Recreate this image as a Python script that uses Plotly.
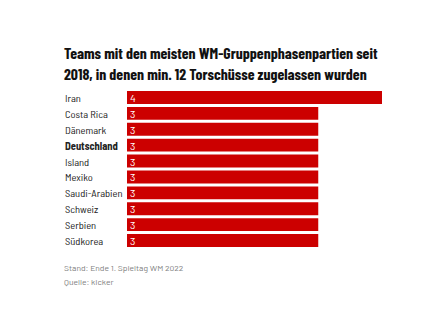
import plotly.graph_objects as go

teams = ["Iran", "Costa Rica", "Dänemark", "Deutschland", "Island", "Mexiko",
         "Saudi-Arabien", "Schweiz", "Serbien", "Südkorea"]
games = [4, 3, 3, 3, 3, 3, 3, 3, 3, 3]
highlight = "Deutschland"

title_lines = ["Teams mit den meisten WM-Gruppenphasenpartien seit",
               "2018, in denen min. 12 Torschüsse zugelassen wurden"]
footer_lines = ["Stand: Ende 1. Spieltag WM 2022", "Quelle: kicker"]

W, H = 444, 333
L, R, T, B = 127, 62, 89, 84
LABEL_FONT = "Barlow Semi Condensed, Barlow, Roboto, sans-serif"
FOOT_FONT = "Barlow, Roboto, sans-serif"
TITLE_FONT = "Barlow Condensed, Roboto, sans-serif"

fig = go.Figure(go.Bar(
    x=games, y=teams, orientation="h",
    marker=dict(color="#cc0000", line=dict(width=0)),
    text=[str(v) for v in games], textposition="inside",
    insidetextanchor="start", textangle=0,
    textfont=dict(color="white", size=10.5, family=FOOT_FONT),
    hoverinfo="skip",
))

plot_w = W - L - R
plot_h = H - T - B

annotations = []
for t in teams:
    label = f"<b>{t}</b>" if t == highlight else t
    annotations.append(dict(
        x=(63 - L) / plot_w, xref="paper", y=t, yref="y",
        text=label, showarrow=False, xanchor="left", yanchor="middle",
        font=dict(size=10.5, color="#222222", family=LABEL_FONT),
    ))

for i, line in enumerate(title_lines):
    annotations.append(dict(
        x=(62 - L) / plot_w, xref="paper",
        y=1 + (T - (52.5 + 21 * i)) / plot_h, yref="paper",
        text=line, showarrow=False, xanchor="left", yanchor="middle",
        font=dict(size=15.7, color="#111111", family=TITLE_FONT, weight=700),
    ))

for i, line in enumerate(footer_lines):
    annotations.append(dict(
        x=(62 - L) / plot_w, xref="paper",
        y=-((267 + 14 * i) - (T + plot_h)) / plot_h, yref="paper",
        text=line, showarrow=False, xanchor="left", yanchor="middle",
        font=dict(size=8.5, color="#808080", family=FOOT_FONT),
    ))

fig.update_layout(
    width=W, height=H,
    margin=dict(l=L, r=R, t=T, b=B),
    paper_bgcolor="white", plot_bgcolor="white",
    bargap=0.19,
    showlegend=False,
    xaxis=dict(range=[0, 4], visible=False, fixedrange=True),
    yaxis=dict(autorange="reversed", showticklabels=False, showgrid=False,
               zeroline=False, fixedrange=True),
    annotations=annotations,
    uniformtext=dict(minsize=8, mode="show"),
)

fig.write_html("out.html", config={"displayModeBar": False})
